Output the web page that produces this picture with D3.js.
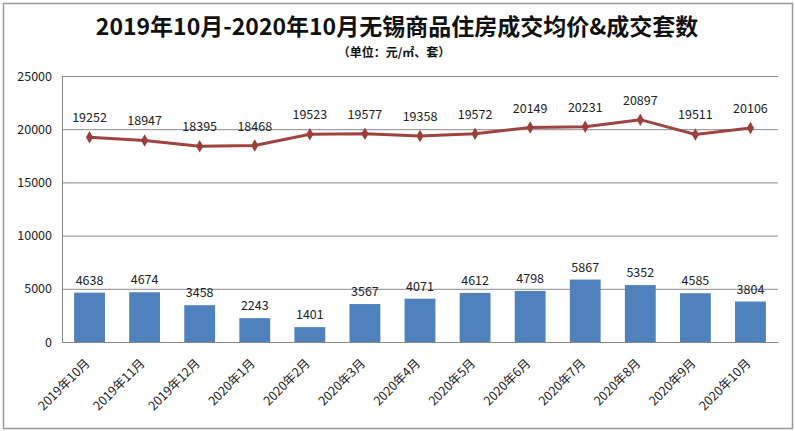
<!DOCTYPE html>
<html><head><meta charset="utf-8">
<script src="https://cdn.jsdelivr.net/npm/d3@7"></script>
<style>body{margin:0;background:#fff}svg{display:block}</style>
</head><body><svg id="c" width="795" height="431"></svg>
<script>
const months = ["2019年10月","2019年11月","2019年12月","2020年1月","2020年2月","2020年3月","2020年4月","2020年5月","2020年6月","2020年7月","2020年8月","2020年9月","2020年10月"];
const volumes = [4638,4674,3458,2243,1401,3567,4071,4612,4798,5867,5352,4585,3804];
const prices = [19252,18947,18395,18468,19523,19577,19358,19572,20149,20231,20897,19511,20106];
const yTicks = [0,5000,10000,15000,20000,25000];
const title = "2019年10月-2020年10月无锡商品住房成交均价&成交套数";
const subtitle = "（单位：元/㎡、套）";

const svg = d3.select("#c");
const font = "'Noto Sans CJK SC', 'Open Sans', sans-serif";
svg.append("rect").attr("x",3.5).attr("y",3.5).attr("width",789).attr("height",425)
  .attr("fill","#fff").attr("stroke","#999").attr("stroke-width",1.5);

const L=62, R=778, T=76, B=342;
const x = d3.scaleBand().domain(months).range([L,R]).paddingInner(0.44).paddingOuter(0.22);
const y = d3.scaleLinear().domain([0,25000]).range([B,T]);

svg.append("text").attr("x",397).attr("y",35).attr("text-anchor","middle")
  .attr("font-family",font).attr("font-weight","bold").attr("font-size",23).attr("fill","#111").text(title);
svg.append("text").attr("x",394).attr("y",57).attr("text-anchor","middle")
  .attr("font-family",font).attr("font-weight","bold").attr("font-size",12).attr("fill","#111").text(subtitle);

// grid
const ga = svg.append("g").attr("transform",`translate(${L},0)`)
  .call(d3.axisLeft(y).tickValues(yTicks).tickSize(-(R-L)).tickPadding(10).tickFormat(d3.format("d")));
ga.select(".domain").attr("stroke","#888");
ga.selectAll(".tick line").attr("stroke","#8a8a8a");
ga.selectAll(".tick text").attr("font-family",font).attr("font-size",12.5).attr("fill","#222");

// bars
svg.append("g").selectAll("rect").data(volumes).join("rect")
  .attr("x",(d,i)=>x(months[i])).attr("width",x.bandwidth())
  .attr("y",d=>y(d)).attr("height",d=>B-y(d)).attr("fill","#4F81BD");
svg.append("g").selectAll("text").data(volumes).join("text")
  .attr("x",(d,i)=>x(months[i])+x.bandwidth()/2).attr("y",d=>y(d)-8)
  .attr("text-anchor","middle").attr("font-family",font).attr("font-size",12.5).attr("fill","#222").text(d=>d);

// x axis
const xa = svg.append("g").attr("transform",`translate(0,${B})`)
  .call(d3.axisBottom(x).tickSize(0).tickPadding(0));
xa.select(".domain").attr("stroke","#888");
xa.selectAll(".tick text").attr("font-family",font).attr("font-size",12.5).attr("fill","#222")
  .attr("text-anchor","end").attr("y",0).attr("dy","0.35em").attr("dx","0")
  .attr("transform","translate(-2,19) rotate(-45)");

// line
const cx = (d,i)=>x(months[i])+x.bandwidth()/2;
svg.append("path").datum(prices)
  .attr("d",d3.line().x(cx).y(d=>y(d)))
  .attr("fill","none").attr("stroke","#A0433F").attr("stroke-width",3);
svg.append("g").selectAll("path").data(prices).join("path")
  .attr("transform",(d,i)=>`translate(${cx(d,i)},${y(d)})`)
  .attr("d",d3.symbol(d3.symbolDiamond,45)).attr("fill","#9B3F3B");
svg.append("g").selectAll("text").data(prices).join("text")
  .attr("x",cx).attr("y",d=>y(d)-15)
  .attr("text-anchor","middle").attr("font-family",font).attr("font-size",12.5).attr("fill","#222").text(d=>d);
</script></body></html>
